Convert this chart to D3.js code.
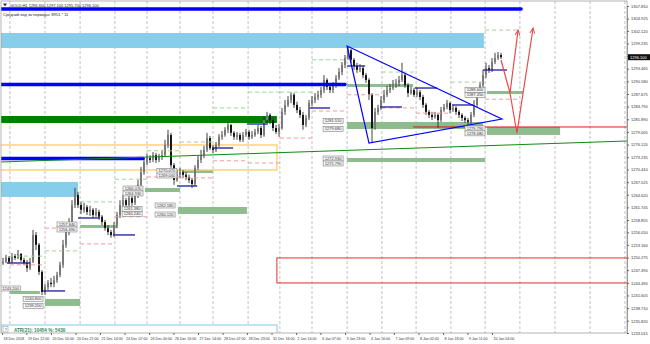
<!DOCTYPE html>
<html>
<head>
<meta charset="utf-8">
<script src="https://cdn.jsdelivr.net/npm/d3@7"></script>
<style>
  body { margin: 0; background: #fff; }
  svg { display: block; font-family: 'Liberation Sans', Arial, sans-serif; }
</style>
</head>
<body>
<div id="chart"></div>
<script>
// GOLD H1, one candle per two hours of the picture
const firstOpen = 1249.0;

const closes = [
  1249.3, 1250.2, 1249.3, 1250.6, 1250.2, 1251.1, 1249.7, 1249.0, 1247.9, 1249.3,
  1255.4, 1253.2, 1247.0, 1242.4, 1243.5, 1244.5, 1244.2, 1245.1, 1246.3, 1248.6,
  1253.2, 1256.1, 1257.7, 1262.3, 1264.6, 1262.3, 1261.2, 1261.8, 1260.7, 1261.2,
  1260.0, 1260.7, 1259.6, 1258.4, 1257.0, 1256.1, 1255.4, 1257.7, 1260.0, 1262.3,
  1263.4, 1262.3, 1263.9, 1262.8, 1264.6, 1266.9, 1269.8, 1272.1, 1273.0, 1272.6,
  1273.7, 1272.6, 1273.3, 1273.7, 1276.0, 1278.3, 1271.4, 1268.0, 1269.2, 1269.8,
  1269.2, 1268.7, 1268.0, 1267.1, 1270.8, 1272.6, 1273.7, 1274.9, 1277.6, 1275.3,
  1274.9, 1276.0, 1277.9, 1278.3, 1279.5, 1280.6, 1278.8, 1277.9, 1278.3, 1277.2,
  1278.3, 1279.0, 1277.9, 1278.3, 1279.0, 1279.9, 1278.3, 1281.7, 1282.9, 1281.7,
  1279.9, 1279.0, 1279.9, 1283.6, 1285.2, 1286.3, 1287.5, 1285.2, 1284.0, 1282.9,
  1280.6, 1282.2, 1285.6, 1286.3, 1287.0, 1287.5, 1288.6, 1290.9, 1289.3, 1288.6,
  1289.7, 1291.3, 1292.7, 1294.3, 1295.9, 1297.7, 1295.5, 1294.1, 1293.2, 1293.6,
  1292.0, 1290.9, 1287.5, 1279.9, 1283.6, 1284.5, 1286.3, 1287.5, 1288.6, 1289.1,
  1289.7, 1290.2, 1290.9, 1292.0, 1289.7, 1287.9, 1288.6, 1287.5, 1288.1, 1287.0,
  1285.2, 1283.6, 1282.9, 1282.4, 1282.9, 1281.7, 1284.0, 1284.7, 1285.6, 1284.0,
  1284.5, 1283.6, 1282.9, 1282.2, 1281.7, 1281.3, 1282.9, 1285.2, 1287.5, 1289.7,
  1292.0, 1293.6, 1293.2, 1295.0, 1295.9, 1296.6, 1296.1
];

const highs = [
  1250.2, 1250.9, 1250.6, 1251.3, 1251.1, 1252.0, 1251.3, 1250.2, 1249.7, 1250.2,
  1256.6, 1256.1, 1253.6, 1247.4, 1244.2, 1245.1, 1245.6, 1246.1, 1247.0, 1249.3,
  1254.3, 1257.0, 1259.3, 1263.4, 1266.2, 1265.3, 1263.0, 1262.8, 1262.3, 1262.1,
  1261.6, 1261.6, 1261.2, 1260.0, 1258.9, 1257.7, 1256.6, 1258.4, 1260.7, 1263.4,
  1264.6, 1263.9, 1264.6, 1264.4, 1265.7, 1268.0, 1271.0, 1273.0, 1274.0, 1273.7,
  1274.4, 1274.2, 1274.0, 1274.9, 1277.2, 1279.5, 1278.8, 1271.9, 1270.3, 1270.8,
  1270.3, 1269.8, 1269.2, 1268.5, 1271.4, 1273.5, 1274.9, 1275.8, 1278.8, 1278.1,
  1276.0, 1276.7, 1278.5, 1279.2, 1280.1, 1281.3, 1280.8, 1279.2, 1279.0, 1278.8,
  1279.0, 1279.7, 1279.5, 1279.2, 1279.7, 1280.6, 1280.4, 1282.4, 1283.6, 1283.3,
  1282.2, 1280.6, 1280.8, 1284.5, 1286.3, 1287.2, 1288.1, 1287.9, 1285.9, 1284.7,
  1283.6, 1282.9, 1286.3, 1287.2, 1287.9, 1288.4, 1289.3, 1292.0, 1291.3, 1290.0,
  1290.4, 1292.0, 1293.6, 1295.0, 1296.6, 1298.4, 1298.0, 1295.9, 1294.8, 1294.5,
  1294.1, 1292.5, 1291.3, 1287.9, 1284.5, 1285.2, 1287.2, 1288.6, 1289.5, 1290.0,
  1290.9, 1291.1, 1291.8, 1294.8, 1292.5, 1290.2, 1289.3, 1289.1, 1289.1, 1288.6,
  1287.5, 1285.6, 1284.0, 1283.6, 1283.6, 1283.3, 1284.7, 1285.4, 1286.3, 1285.9,
  1285.2, 1284.9, 1284.0, 1283.3, 1282.6, 1282.2, 1283.6, 1286.3, 1288.1, 1290.4,
  1293.2, 1294.8, 1294.3, 1295.9, 1297.1, 1297.3, 1297.1
];

const lows = [
  1248.6, 1249.0, 1248.8, 1249.0, 1249.7, 1249.9, 1249.3, 1248.6, 1247.0, 1247.4,
  1249.0, 1252.0, 1246.3, 1241.7, 1241.7, 1242.9, 1243.5, 1243.5, 1244.5, 1245.8,
  1247.9, 1252.5, 1255.4, 1257.0, 1261.6, 1261.6, 1260.2, 1260.5, 1260.0, 1259.8,
  1259.3, 1259.6, 1258.9, 1257.7, 1256.4, 1255.4, 1254.8, 1255.0, 1257.0, 1259.3,
  1261.6, 1261.6, 1261.8, 1262.1, 1262.3, 1263.9, 1266.2, 1269.2, 1271.4, 1271.9,
  1272.1, 1271.9, 1272.1, 1272.6, 1273.3, 1275.3, 1270.8, 1266.9, 1267.6, 1268.5,
  1268.5, 1268.0, 1267.3, 1266.2, 1266.6, 1270.3, 1271.9, 1273.0, 1274.4, 1274.9,
  1274.2, 1274.4, 1275.6, 1277.2, 1277.9, 1278.8, 1278.1, 1277.2, 1277.2, 1276.7,
  1276.7, 1277.9, 1277.2, 1277.4, 1277.9, 1278.5, 1277.6, 1277.9, 1281.1, 1280.8,
  1279.2, 1278.5, 1277.9, 1279.5, 1282.9, 1284.7, 1285.6, 1284.5, 1283.3, 1282.2,
  1279.5, 1280.1, 1281.7, 1284.9, 1285.6, 1286.3, 1286.8, 1287.9, 1288.6, 1287.9,
  1287.9, 1289.1, 1290.9, 1292.0, 1293.6, 1295.5, 1294.8, 1293.2, 1292.5, 1292.7,
  1291.3, 1290.2, 1286.3, 1276.7, 1279.5, 1282.9, 1284.0, 1285.6, 1287.0, 1287.9,
  1288.6, 1289.1, 1289.5, 1290.4, 1289.1, 1287.0, 1287.5, 1287.0, 1287.0, 1286.3,
  1284.5, 1282.9, 1282.2, 1281.7, 1282.0, 1279.9, 1281.3, 1283.6, 1284.2, 1283.3,
  1283.6, 1282.9, 1282.2, 1281.5, 1281.1, 1280.4, 1280.8, 1282.4, 1284.7, 1287.0,
  1289.3, 1291.3, 1292.5, 1292.7, 1294.5, 1295.5, 1295.7
];

// axes
const priceTicks = [
  1307.810, 1304.925, 1302.120, 1299.235, 1296.350, 1293.465, 1290.580, 1287.675,
  1284.790, 1281.890, 1279.005, 1276.120, 1273.235, 1270.410, 1267.525, 1264.620,
  1261.745, 1258.855, 1256.050, 1253.160, 1250.275, 1247.390, 1244.490, 1241.605,
  1238.710, 1235.820, 1233.015
];
const timeLabels = [
  '18 Dec 2018', '19 Dec 12:00', '20 Dec 05:00', '20 Dec 21:00', '21 Dec 14:00',
  '24 Dec 07:00', '26 Dec 00:00', '26 Dec 16:00', '27 Dec 14:00', '28 Dec 07:00',
  '28 Dec 23:00', '31 Dec 16:00', '2 Jan 14:00', '3 Jan 07:00', '3 Jan 23:00',
  '4 Jan 16:00', '7 Jan 09:00', '8 Jan 02:00', '8 Jan 18:00', '9 Jan 11:00', '10 Jan 04:00'
];
const timeLabelBars = [
  -0.3, 7.8, 16, 24.2, 32.3, 40.5, 48.7, 56.8, 65, 73.2, 81.3,
  89.5, 97.7, 105.8, 114, 122.2, 130.3, 138.5, 146.7, 154.8, 163
];
const daySeparators = [
  2.3, 14, 25.7, 37.3, 48, 59, 70, 81.7, 92.3, 103, 114.7,
  126.3, 137.7, 149.3, 160.7, 172.3, 184, 195.7, 207.3
];

// daily levels, one per day between separators
const dailyUpper = [
  1250.6, 1251.8, 1263.0, 1268.2, 1274.7, 1276.7, 1284.5, 1288.1,
  1288.1, 1295.5, null, 1292.7, null, 1290.4, 1302.3
];
const dailyLower = [
  1248.6, 1257.0, 1253.4, 1259.6, 1268.7, 1268.5, 1272.4, 1271.9,
  1277.6, 1283.8, 1287.5, 1284.5, 1283.3, null, 1286.5
];
// [fromBar, toBar, price]
const pivotLines = [
  [1.3, 9, 1249.03], [13.3, 20.7, 1242.63], [25, 32.3, 1259.32], [36.7, 44, 1255.44],
  [58, 64.7, 1266.64], [69.7, 76.7, 1275.33], [81.3, 88.3, 1280.82], [102.3, 109, 1284.48],
  [114.7, 120.7, 1294.09], [125.7, 133, 1284.71], [137.3, 144.7, 1289.05],
  [149.7, 156.7, 1285.17], [160, 168, 1293.17]
];

// zones [fromBar, toBar, topPrice, bottomPrice]
const skyZones = [[-1, 160.3, 1301.63, 1298.20], [-1, 25, 1267.56, 1264.13]];
const demandZones = [
  [2.3, 12.3, 1242.63, 1241.94], [14, 25.7, 1240.80, 1239.20], [25.7, 38, 1257.72, 1257.04],
  [47.3, 59, 1266.18, 1265.27], [58.3, 81.3, 1261.84, 1260.24], [59.7, 70, 1270.30, 1269.61],
  [114.7, 136.7, 1289.97, 1289.28], [114.7, 160, 1281.28, 1279.68], [114.7, 160.7, 1273.05, 1272.13],
  [161.3, 173.3, 1288.37, 1287.68], [161.3, 185.7, 1280.14, 1278.31]
];
const darkZone = [-1, 91.3, 1282.65, 1281.05];
const orangeBox = [-1, 91.3, 1276.02, 1270.30];
const redBox = [91.3, 210, 1250.18, 1244.46];

// [fromBar, toBar, price]
const thickLines = [[-1, 172.7, 1307.12], [-1, 114, 1289.86], [-1, 46.7, 1272.93]];
const redLevel = [136.7, 210, 1280.14];
const trendLine = [[-1, 1272.13], [208, 1276.93]];
const triangle = [[114.7, 1298.66], [122, 1276.47], [166.3, 1281.96]];
const scenarios = [
  [[166, 1295.46], [169, 1287.91], [171.7, 1302.32]],
  [[169, 1287.91], [171.3, 1278.76], [176.7, 1302.78]]
];

// price tags [leftBar, price]
const priceTags = [
  [-0.8, 1243.20], [6.7, 1240.80], [6.7, 1239.20], [18, 1257.84], [18, 1256.69],
  [40, 1266.07], [40, 1264.93], [39.7, 1261.38], [39.7, 1260.24], [51.3, 1270.07],
  [51.3, 1269.04], [50.7, 1262.18], [50.7, 1260.12], [106.7, 1281.51], [106.7, 1279.68],
  [106.7, 1272.93], [106.7, 1271.79], [154, 1288.60], [154, 1287.45], [154, 1279.79],
  [154, 1278.68]
];

const width = 650;
const height = 344;
const plot = { left: 1, top: 1, right: 627, bottom: 333 };
const fmt = d3.format('.3f');

const x = d3.scaleLinear().domain([-1, 208]).range([0, 627]);
const y = d3.scaleLinear().domain([1307.81, 1233.015]).range([6, 333]);

const svg = d3.select('#chart').append('svg')
    .attr('width', width)
    .attr('height', height);

svg.append('defs').append('clipPath')
    .attr('id', 'clip')
  .append('rect')
    .attr('x', plot.left)
    .attr('y', plot.top)
    .attr('width', plot.right - plot.left)
    .attr('height', plot.bottom - plot.top);

svg.select('defs').append('marker')
    .attr('id', 'head')
    .attr('viewBox', '0 0 10 10')
    .attr('refX', 9)
    .attr('refY', 5)
    .attr('markerWidth', 5)
    .attr('markerHeight', 5)
    .attr('orient', 'auto')
  .append('path')
    .attr('d', 'M0,1L9,5L0,9')
    .attr('fill', 'none')
    .attr('stroke', '#e84a4a')
    .attr('stroke-width', 1.6);

const chart = svg.append('g').attr('clip-path', 'url(#clip)');

// day separators
chart.selectAll('.sep')
  .data(daySeparators)
  .enter().append('line')
    .attr('x1', d => x(d))
    .attr('x2', d => x(d))
    .attr('y1', plot.top)
    .attr('y2', plot.bottom)
    .attr('stroke', '#a8a8a8')
    .attr('stroke-width', 0.7)
    .attr('stroke-dasharray', '3,2');

function zone(g, d, fill) {
  return g.append('rect')
      .attr('x', x(d[0]))
      .attr('y', y(d[2]))
      .attr('width', x(d[1]) - x(d[0]))
      .attr('height', y(d[3]) - y(d[2]))
      .attr('fill', fill);
}

skyZones.forEach(d => zone(chart, d, '#87ceeb'));
zone(chart, darkZone, '#008000');
demandZones.forEach(d => zone(chart, d, '#8fbc8f'));

zone(chart, orangeBox, 'none')
    .attr('stroke', '#ffcf70')
    .attr('stroke-width', 1.4);

zone(chart, redBox, 'none')
    .attr('stroke', '#e03030')
    .attr('stroke-width', 1);

// candles
const bars = closes.map((c, i) => ({
  i,
  open: i ? closes[i - 1] : firstOpen,
  close: c,
  high: highs[i],
  low: lows[i]
}));

const candle = chart.append('g').selectAll('g')
  .data(bars)
  .enter().append('g');

candle.append('line')
    .attr('x1', d => x(d.i))
    .attr('x2', d => x(d.i))
    .attr('y1', d => y(Math.max(d.high, d.open, d.close)))
    .attr('y2', d => y(Math.min(d.low, d.open, d.close)))
    .attr('stroke', '#2a2a2a')
    .attr('stroke-width', 0.9);

candle.append('rect')
    .attr('x', d => x(d.i) - 1)
    .attr('y', d => y(Math.max(d.open, d.close)))
    .attr('width', 2)
    .attr('height', d => Math.max(0.6, Math.abs(y(d.open) - y(d.close))))
    .attr('fill', d => (d.close >= d.open ? '#7a7a7a' : '#161616'));

// daily levels
function levels(values, color) {
  chart.append('g').selectAll('line')
    .data(values.map((p, k) => ({ p, k })).filter(d => d.p !== null))
    .enter().append('line')
      .attr('x1', d => x(daySeparators[d.k]))
      .attr('x2', d => x(daySeparators[d.k + 1]))
      .attr('y1', d => y(d.p))
      .attr('y2', d => y(d.p))
      .attr('stroke', color)
      .attr('stroke-width', 1)
      .attr('stroke-dasharray', '4,3');
}
levels(dailyUpper, '#9ed49e');
levels(dailyLower, '#f59a9a');

chart.append('g').selectAll('line')
  .data(pivotLines)
  .enter().append('line')
    .attr('x1', d => x(d[0]))
    .attr('x2', d => x(d[1]))
    .attr('y1', d => y(d[2]))
    .attr('y2', d => y(d[2]))
    .attr('stroke', '#1a1a9a')
    .attr('stroke-width', 1.3);

// thick blue lines
chart.append('g').selectAll('line')
  .data(thickLines)
  .enter().append('line')
    .attr('x1', d => x(d[0]))
    .attr('x2', d => x(d[1]))
    .attr('y1', d => y(d[2]))
    .attr('y2', d => y(d[2]))
    .attr('stroke', '#0000ff')
    .attr('stroke-width', 3.4)
    .attr('stroke-linecap', 'round');

chart.append('line')
    .attr('x1', x(redLevel[0]))
    .attr('x2', x(redLevel[1]))
    .attr('y1', y(redLevel[2]))
    .attr('y2', y(redLevel[2]))
    .attr('stroke', '#e00000')
    .attr('stroke-width', 0.9);

const line = d3.line().x(d => x(d[0])).y(d => y(d[1]));

chart.append('path')
    .attr('d', line(trendLine))
    .attr('stroke', '#108a10')
    .attr('stroke-width', 1)
    .attr('fill', 'none');

chart.append('path')
    .attr('d', line(triangle) + 'Z')
    .attr('stroke', '#0000ff')
    .attr('stroke-width', 1.2)
    .attr('fill', 'none');

chart.selectAll('.scenario')
  .data(scenarios)
  .enter().append('path')
    .attr('d', line)
    .attr('stroke', '#e84a4a')
    .attr('stroke-width', 1.2)
    .attr('fill', 'none')
    .attr('marker-end', 'url(#head)');

// price tags
const tag = chart.append('g').selectAll('g')
  .data(priceTags)
  .enter().append('g')
    .attr('transform', d => `translate(${x(d[0])}, ${y(d[1]) - 2.5})`);

tag.append('rect')
    .attr('width', 20)
    .attr('height', 5)
    .attr('fill', '#f6f6f6')
    .attr('stroke', '#808080')
    .attr('stroke-width', 0.6);

tag.append('text')
    .attr('x', 10)
    .attr('y', 3.9)
    .attr('text-anchor', 'middle')
    .attr('font-size', 4)
    .attr('fill', '#333')
    .text(d => fmt(d[1]));

// ATR panel
const atr = chart.append('g');
atr.append('rect')
    .attr('x', 1)
    .attr('y', 325)
    .attr('width', 276)
    .attr('height', 10)
    .attr('fill', '#fff')
    .attr('stroke', '#9fd2f2')
    .attr('stroke-width', 1.3);
atr.append('rect')
    .attr('x', 3)
    .attr('y', 326.5)
    .attr('width', 5)
    .attr('height', 5.5)
    .attr('fill', '#fff')
    .attr('stroke', '#888')
    .attr('stroke-width', 0.5);
atr.append('text')
    .attr('x', 5.5)
    .attr('y', 331)
    .attr('text-anchor', 'middle')
    .attr('font-size', 4)
    .attr('fill', '#555')
    .text('?');
atr.append('text')
    .attr('x', 14)
    .attr('y', 331.6)
    .attr('font-size', 4.6)
    .attr('font-weight', 'bold')
    .attr('fill', '#2e8b57')
    .text('ATR(21): 10454  %: 5430');

// frame
svg.append('rect')
    .attr('x', plot.left)
    .attr('y', plot.top)
    .attr('width', plot.right - plot.left)
    .attr('height', plot.bottom - plot.top)
    .attr('fill', 'none')
    .attr('stroke', '#a0a0a0')
    .attr('stroke-width', 0.8);

// price axis
const yAxis = d3.axisRight(y)
    .tickValues(priceTicks)
    .tickSize(2)
    .tickPadding(2)
    .tickFormat(fmt);

svg.append('g')
    .attr('class', 'y axis')
    .attr('transform', `translate(${plot.right}, 0)`)
    .call(yAxis)
    .call(g => g.select('.domain').attr('stroke', '#888').attr('stroke-width', 0.8))
    .call(g => g.selectAll('.tick line').attr('stroke', '#666'))
    .call(g => g.selectAll('.tick text').attr('font-size', 4).attr('fill', '#333')
      .attr('font-family', 'Liberation Sans, Arial, sans-serif'));

// current price
const last = bars[bars.length - 1];
svg.append('rect')
    .attr('x', plot.right + 1)
    .attr('y', y(last.close) - 3)
    .attr('width', 22)
    .attr('height', 6)
    .attr('fill', '#111');
svg.append('text')
    .attr('x', plot.right + 3)
    .attr('y', y(last.close) + 1.5)
    .attr('font-size', 4)
    .attr('fill', '#fff')
    .text(fmt(last.close));

// time axis
const xAxis = d3.axisBottom(x)
    .tickValues(timeLabelBars)
    .tickSize(2)
    .tickPadding(2)
    .tickFormat((d, i) => timeLabels[i]);

svg.append('g')
    .attr('class', 'x axis')
    .attr('transform', `translate(0, ${plot.bottom})`)
    .call(xAxis)
    .call(g => g.select('.domain').remove())
    .call(g => g.selectAll('.tick line').attr('stroke', '#666'))
    .call(g => g.selectAll('.tick text').attr('font-size', 3.6).attr('fill', '#333')
      .attr('text-anchor', 'start').attr('dx', 1)
      .attr('font-family', 'Liberation Sans, Arial, sans-serif'));

// header
svg.append('path')
    .attr('d', 'M3,3.5L7,3.5L5,6.5Z')
    .attr('fill', '#333');
svg.append('text')
    .attr('x', 10)
    .attr('y', 6.6)
    .attr('font-size', 4)
    .attr('fill', '#222')
    .text(`GOLD,H1  ${fmt(last.open)} ${fmt(last.high)} ${fmt(last.low)} ${fmt(last.close)}`);
svg.append('text')
    .attr('x', 3)
    .attr('y', 16.3)
    .attr('font-size', 4)
    .attr('fill', '#222')
    .text('Средний ход за периоды: 8951 * 11');
</script>
</body>
</html>
